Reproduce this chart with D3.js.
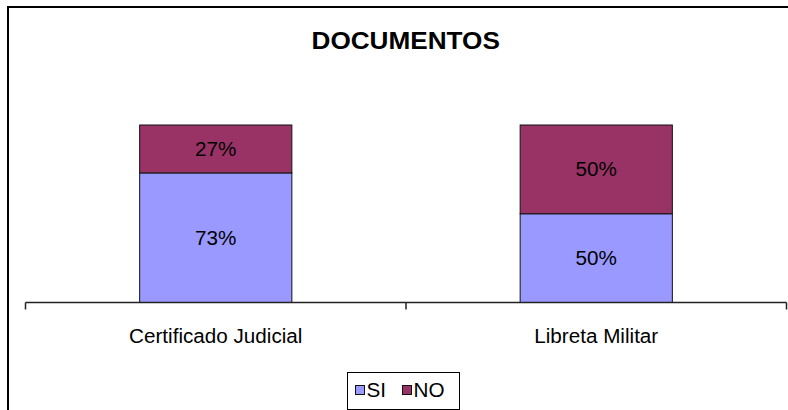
<!DOCTYPE html>
<html>
<head>
  <meta charset="utf-8">
  <title>Documentos</title>
  <script src="https://cdn.jsdelivr.net/npm/d3@7/dist/d3.min.js"></script>
  <style>
    body { margin: 0; background: #fff; }
    svg { display: block; font-family: "Liberation Sans", Arial, sans-serif; }
  </style>
</head>
<body>
  <div id="chart-area"></div>
  <script>
    const categories = ["Certificado Judicial", "Libreta Militar"];
    const seriesNames = ["SI", "NO"];
    const siValues = [73, 50];
    const noValues = [27, 50];
    const colors = ["#9999FF", "#993366"];

    const width = 788, height = 410;
    const sx = 1.06; // slight horizontal text stretch seen in the picture

    const svg = d3.select("#chart-area").append("svg")
        .attr("width", width)
        .attr("height", height);

    // chart frame
    svg.append("rect")
        .attr("x", 8).attr("y", 7)
        .attr("width", 800).attr("height", 420)
        .attr("fill", "none")
        .attr("stroke", "#000")
        .attr("stroke-width", 2);

    // title
    svg.append("text")
        .attr("transform", `translate(405.7,48.5) scale(1.09,1)`)
        .attr("text-anchor", "middle")
        .attr("font-weight", "bold")
        .attr("font-size", 24)
        .text("DOCUMENTOS");

    const table = categories.map((c, i) => ({ cat: c, SI: siValues[i], NO: noValues[i] }));
    const stacked = d3.stack().keys(seriesNames)(table);

    const x = d3.scaleBand()
        .domain(categories)
        .range([25.5, 786.5])
        .paddingInner(0.6)
        .paddingOuter(0.3);

    const y = d3.scaleLinear()
        .domain([0, 100])
        .range([302.5, 125]);

    const layers = svg.selectAll("g.layer")
        .data(stacked)
        .enter().append("g")
            .attr("class", "layer")
            .attr("fill", (d, i) => colors[i]);

    layers.selectAll("rect")
        .data(d => d)
        .enter().append("rect")
            .attr("x", d => x(d.data.cat))
            .attr("y", d => y(d[1]))
            .attr("width", x.bandwidth())
            .attr("height", d => y(d[0]) - y(d[1]))
            .attr("stroke", "#111")
            .attr("stroke-width", 1);

    layers.selectAll("text")
        .data(d => d)
        .enter().append("text")
            .attr("transform", d => `translate(${x(d.data.cat) + x.bandwidth() / 2},${(y(d[0]) + y(d[1])) / 2 + 7}) scale(${sx},1)`)
            .attr("text-anchor", "middle")
            .attr("font-size", 19.5)
            .attr("fill", "#000")
            .text(d => (d[1] - d[0]) + "%");

    // category axis
    const axis = svg.append("g")
        .attr("transform", "translate(0,302.5)")
        .call(d3.axisBottom(x).tickSize(0).tickFormat(""));
    axis.select(".domain").remove();

    axis.append("line")
        .attr("x1", 25.5).attr("x2", 786.5)
        .attr("stroke", "#222").attr("stroke-width", 1.5);

    axis.selectAll("line.tick-mark")
        .data([25.5, (25.5 + 786.5) / 2, 786.5])
        .enter().append("line")
            .attr("class", "tick-mark")
            .attr("x1", d => d).attr("x2", d => d)
            .attr("y1", 0).attr("y2", 7)
            .attr("stroke", "#222").attr("stroke-width", 1.5);

    svg.selectAll("text.cat")
        .data(categories)
        .enter().append("text")
            .attr("class", "cat")
            .attr("transform", d => `translate(${x(d) + x.bandwidth() / 2},343) scale(${sx},1)`)
            .attr("text-anchor", "middle")
            .attr("font-size", 19.5)
            .text(d => d);

    // legend
    const legend = svg.append("g");
    legend.append("rect")
        .attr("x", 347.5).attr("y", 372.5)
        .attr("width", 112).attr("height", 37)
        .attr("fill", "#fff")
        .attr("stroke", "#000")
        .attr("stroke-width", 1);

    const legX = [355.5, 402.5];
    const items = legend.selectAll("g.item")
        .data(seriesNames)
        .enter().append("g")
            .attr("class", "item")
            .attr("transform", (d, i) => `translate(${legX[i]},385.5)`);
    items.append("rect")
        .attr("width", 9).attr("height", 9)
        .attr("fill", (d, i) => colors[i])
        .attr("stroke", "#111");
    items.append("text")
        .attr("transform", `translate(11,11.5) scale(${sx},1)`)
        .attr("font-size", 19.5)
        .text(d => d);
  </script>
</body>
</html>
